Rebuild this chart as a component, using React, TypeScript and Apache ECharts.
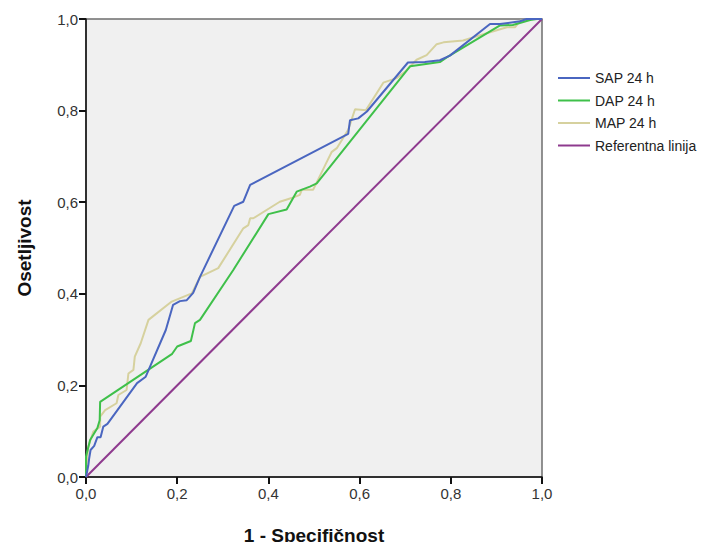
import React, { useEffect, useRef } from "react";
import * as echarts from "echarts";

const seriesNames = ["SAP 24 h", "DAP 24 h", "MAP 24 h", "Referentna linija"];
const axisTicks = [0, 0.2, 0.4, 0.6, 0.8, 1.0];

const sapPoints: [number, number][] = [
  [0, 0], [0.005, 0.025], [0.007, 0.041], [0.01, 0.059], [0.018, 0.068], [0.025, 0.087],
  [0.032, 0.087], [0.038, 0.11], [0.047, 0.116], [0.112, 0.205], [0.131, 0.219],
  [0.175, 0.321], [0.191, 0.376], [0.206, 0.384], [0.221, 0.386], [0.235, 0.402],
  [0.25, 0.437], [0.325, 0.592], [0.345, 0.601], [0.36, 0.638], [0.575, 0.749],
  [0.579, 0.779], [0.597, 0.783], [0.616, 0.798], [0.706, 0.905], [0.743, 0.906],
  [0.776, 0.91], [0.798, 0.92], [0.886, 0.989], [0.908, 0.989], [0.952, 0.995],
  [0.966, 1.0], [1, 1],
];

const dapPoints: [number, number][] = [
  [0, 0], [0, 0.045], [0.009, 0.081], [0.025, 0.107], [0.03, 0.124], [0.031, 0.164],
  [0.189, 0.269], [0.2, 0.285], [0.23, 0.297], [0.239, 0.336], [0.25, 0.343],
  [0.323, 0.452], [0.4, 0.574], [0.44, 0.584], [0.462, 0.623], [0.491, 0.634],
  [0.506, 0.641], [0.711, 0.897], [0.776, 0.906], [0.791, 0.916], [0.908, 0.986],
  [0.936, 0.987], [0.974, 0.998], [0.989, 1], [1, 1],
];

const mapPoints: [number, number][] = [
  [0, 0], [0.002, 0.035], [0.005, 0.066], [0.016, 0.099], [0.031, 0.11], [0.031, 0.132],
  [0.042, 0.146], [0.067, 0.161], [0.071, 0.179], [0.089, 0.19], [0.093, 0.226],
  [0.104, 0.234], [0.107, 0.263], [0.12, 0.292], [0.137, 0.343], [0.188, 0.383],
  [0.232, 0.401], [0.25, 0.437], [0.29, 0.456], [0.345, 0.543], [0.356, 0.55],
  [0.36, 0.565], [0.367, 0.565], [0.425, 0.601], [0.451, 0.609], [0.469, 0.616],
  [0.473, 0.627], [0.498, 0.627], [0.528, 0.688], [0.539, 0.71], [0.55, 0.718],
  [0.575, 0.758], [0.59, 0.803], [0.614, 0.801], [0.652, 0.861], [0.681, 0.871],
  [0.7, 0.885], [0.725, 0.911], [0.747, 0.921], [0.769, 0.945], [0.784, 0.949],
  [0.827, 0.953], [0.886, 0.971], [0.923, 0.982], [0.941, 0.982], [0.952, 0.996],
  [0.974, 1], [1, 1],
];

const refPoints: [number, number][] = [
  [0, 0], [1, 1],
];

const colors = ["#4a66c0", "#3fc04a", "#d6d19e", "#8e3a8e"];

export default function App() {
  const ref = useRef<HTMLDivElement>(null);
  useEffect(() => {
    if (!ref.current) return;
    const chart = echarts.init(ref.current, undefined, { renderer: "svg" });
    const fmt = (v: number) => v.toFixed(1).replace(".", ",");
    const font = "Liberation Sans, Arial, sans-serif";
    const datasets = [sapPoints, dapPoints, mapPoints, refPoints];
    const series = seriesNames.map((name, i) => ({
      name,
      type: "line",
      data: datasets[i],
      showSymbol: false,
      symbol: "none",
      z: 10 - i,
      lineStyle: { color: colors[i], width: 2 },
      itemStyle: { color: colors[i] },
    }));
    const tickStyle = { show: true, inside: false, length: 7, lineStyle: { color: "#111", width: 2 } };
    chart.setOption({
      animation: false,
      backgroundColor: "#ffffff",
      textStyle: { fontFamily: font },
      grid: {
        left: 86,
        right: 178,
        top: 19,
        bottom: 73,
        show: true,
        backgroundColor: "#f0f0f0",
        borderColor: "#6e6e6e",
        borderWidth: 1.5,
      },
      legend: {
        orient: "vertical",
        left: 553,
        top: 65,
        itemWidth: 32,
        itemHeight: 2,
        itemGap: 6.5,
        icon: "rect",
        data: seriesNames,
        textStyle: { fontSize: 14, color: "#222", fontFamily: font, lineHeight: 16 },
      },
      xAxis: {
        type: "value",
        min: 0,
        max: 1,
        interval: 0.2,
        name: "1 - Specifičnost",
        nameLocation: "middle",
        nameGap: 49,
        nameTextStyle: { fontSize: 19, fontWeight: "bold", color: "#111", fontFamily: font },
        axisLine: { show: true, onZero: false, lineStyle: { color: "#111", width: 1.5 } },
        axisTick: tickStyle,
        axisLabel: { formatter: fmt, fontSize: 15, color: "#333", margin: 9, fontFamily: font },
        splitLine: { show: false },
      },
      yAxis: {
        type: "value",
        min: 0,
        max: 1,
        interval: 0.2,
        name: "Osetljivost",
        nameLocation: "middle",
        nameGap: 52,
        nameTextStyle: { fontSize: 19, fontWeight: "bold", color: "#111", fontFamily: font },
        axisLine: { show: true, onZero: false, lineStyle: { color: "#111", width: 1.5 } },
        axisTick: tickStyle,
        axisLabel: { formatter: fmt, fontSize: 15, color: "#333", margin: 8, fontFamily: font },
        splitLine: { show: false },
      },
      series,
    });
    return () => chart.dispose();
  }, []);
  return <div ref={ref} style={{ width: 720, height: 550, margin: -8 }} />;
}
